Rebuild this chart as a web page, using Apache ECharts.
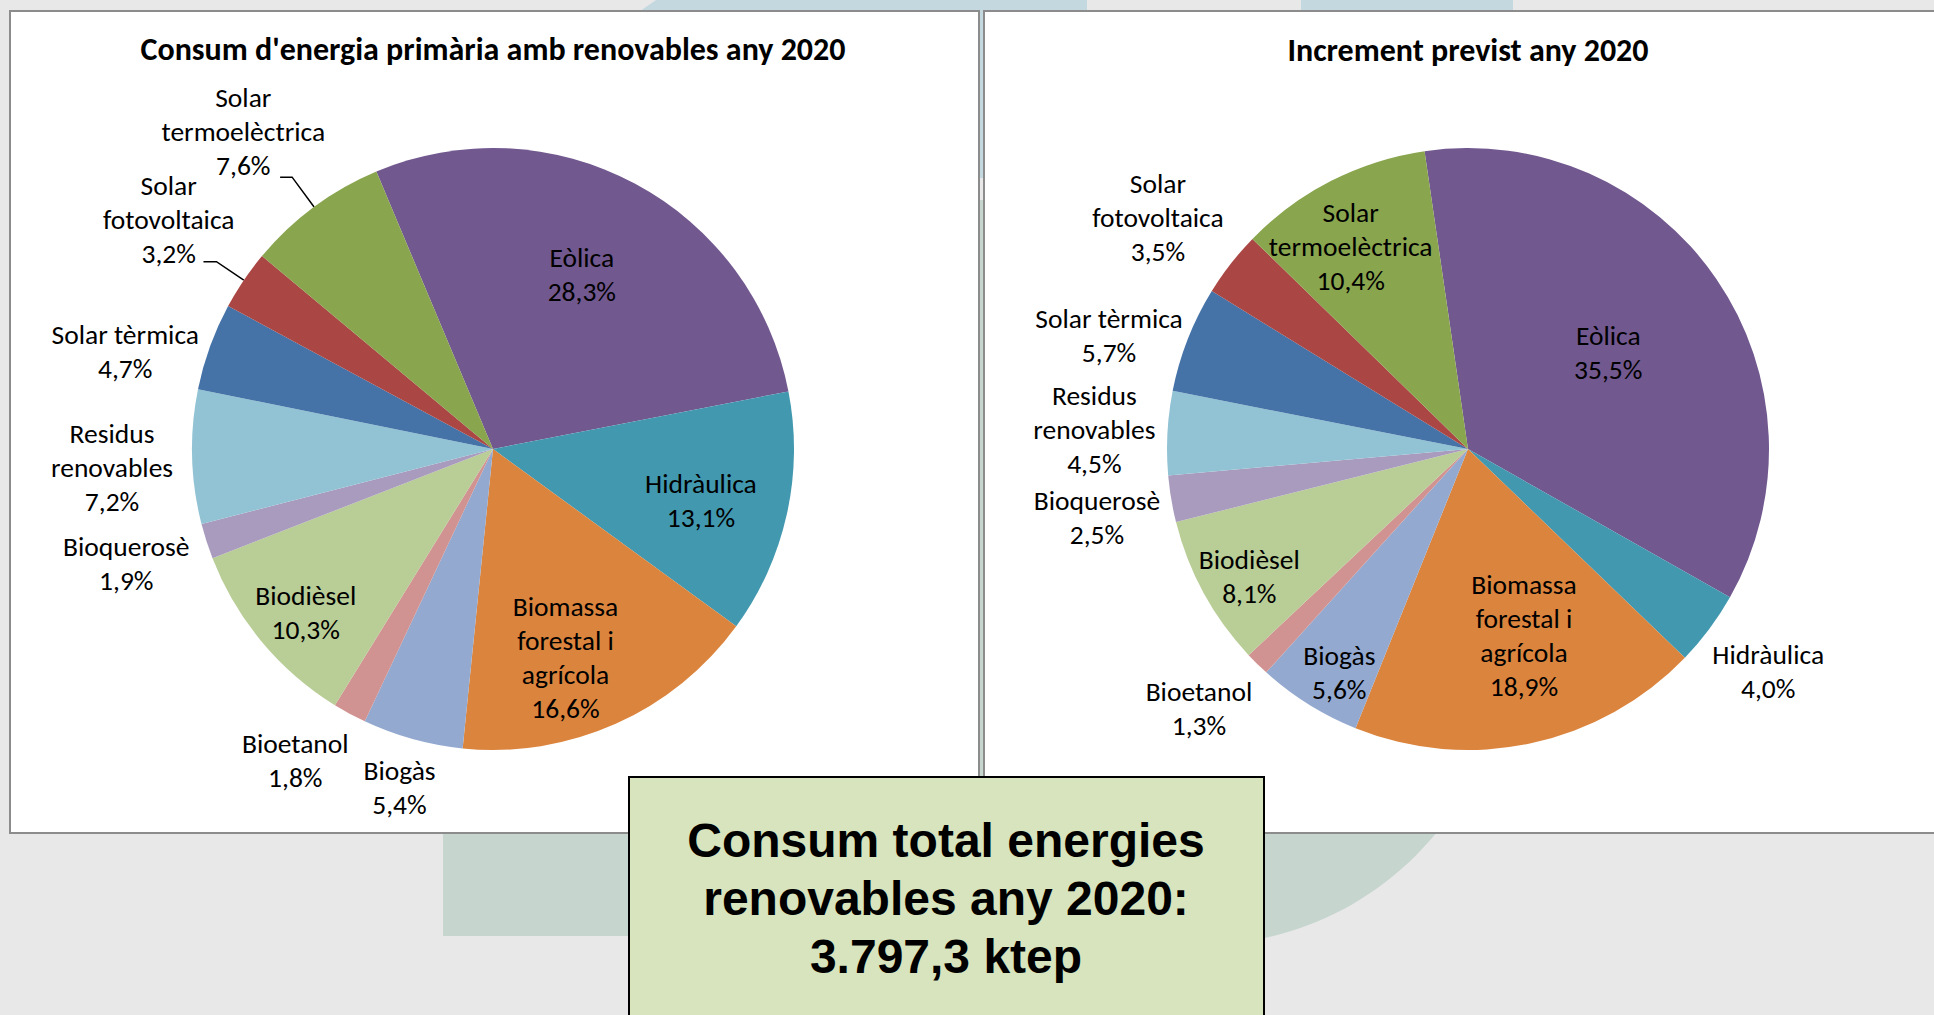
<!DOCTYPE html>
<html>
<head>
<meta charset="utf-8">
<script src="https://cdn.jsdelivr.net/npm/echarts@6/dist/echarts.min.js"></script>
<style>
html,body{margin:0;padding:0;background:#e9e8e9;overflow:hidden}
#c{width:1934px;height:1015px}
</style>
</head>
<body>
<div id="c"></div>
<script>
// ---------------- data ----------------
const categories = ['Eòlica', 'Hidràulica', 'Biomassa forestal i agrícola', 'Biogàs', 'Bioetanol',
  'Biodièsel', 'Bioquerosè', 'Residus renovables', 'Solar tèrmica', 'Solar fotovoltaica', 'Solar termoelèctrica'];
const labelNames = ['Eòlica', 'Hidràulica', 'Biomassa\nforestal i\nagrícola', 'Biogàs', 'Bioetanol',
  'Biodièsel', 'Bioquerosè', 'Residus\nrenovables', 'Solar tèrmica', 'Solar\nfotovoltaica', 'Solar\ntermoelèctrica'];
const consum2020 = [28.3, 13.1, 16.6, 5.4, 1.8, 10.3, 1.9, 7.2, 4.7, 3.2, 7.6];
const increment2020 = [35.5, 4.0, 18.9, 5.6, 1.3, 8.1, 2.5, 4.5, 5.7, 3.5, 10.4];
const titleLeft = "Consum d'energia primària amb renovables any 2020";
const titleRight = 'Increment previst any 2020';
const totalText = 'Consum total energies\nrenovables any 2020:\n3.797,3 ktep';

// ---------------- styles ----------------
const sliceColors = ['#71588f', '#4198af', '#db843d', '#93a9cf', '#d19392',
  '#b9cd96', '#a99bbd', '#92c3d4', '#4572a7', '#aa4643', '#89a54e'];
const FONT = 'Carlito, Lato, "Open Sans", sans-serif';
const R = 301;

// label placement per slice (same order as categories)
const leftLayout = [
  {inside: 194, pad: [0, 5, 7, 0]},
  {inside: 213, pad: [11, 0, 0, 0]},
  {inside: 217, pad: [20, 32, 0, 0]},
  {dist: -23, pad: [96, 0, 0, 0]},
  {dist: 1, pad: [93, 0, 0, 0]},
  {inside: 247, pad: [11, 0, 0, 5]},
  {dist: 17, pad: [44, 0, 0, 0]},
  {dist: 19, pad: [21, 0, 0, 0]},
  {dist: 11, pad: [10, 0, 0, 0]},
  {dist: -31, pad: [0, 0, 84, 0], len: 33, len2: 13, line: true},
  {dist: -45, pad: [0, 0, 91, 0], len: 37, len2: 12, line: true}
];
const rightLayout = [
  {inside: 170, pad: [0, 0, 0, 0]},
  {dist: 3, pad: [86, 0, 0, 0]},
  {inside: 191, pad: [0, 0, 0, 32]},
  {inside: 254, pad: [16, 0, 0, 12]},
  {dist: 5, pad: [89, 0, 0, 0]},
  {inside: 252, pad: [14, 0, 0, 5]},
  {dist: 11, pad: [37, 0, 0, 0]},
  {dist: 12, pad: [0, 0, 8, 0]},
  {dist: 5, pad: [0, 0, 8, 0]},
  {dist: 7, pad: [0, 0, 93, 0]},
  {inside: 234, pad: [12, 22, 0, 0]}
];

function fmtPct(v) { return v.toFixed(1).replace('.', ',') + '%'; }
function richText(i, v) {
  return (labelNames[i] + '\n' + fmtPct(v)).split('\n').map(s => '{c|' + s + '}').join('\n');
}
const rich = { c: { align: 'center', fontFamily: FONT, fontSize: 27.5, lineHeight: 34, color: '#000', textBorderWidth: 0 } };

function buildPie(values, layout, center, startAngle) {
  const series = [];
  series.push({
    type: 'pie', silent: true, animation: false, center: center, radius: [0, R],
    startAngle: startAngle, clockwise: true, avoidLabelOverlap: false, z: 2,
    labelLayout: { hideOverlap: false },
    itemStyle: { borderWidth: 0 },
    emphasis: { disabled: true },
    label: { show: true, position: 'outside', rich: rich, color: '#000',
      formatter: p => richText(p.dataIndex, p.value) },
    labelLine: { show: false, length: 0, length2: 0, lineStyle: { color: '#000', width: 1.5 } },
    data: values.map((v, i) => {
      const L = layout[i];
      const d = { name: categories[i], value: v, itemStyle: { color: sliceColors[i] } };
      if (L.inside) {
        d.label = { show: false };
        d.labelLine = { show: false };
      } else {
        d.label = { show: true, distanceToLabelLine: L.dist, padding: L.pad };
        d.labelLine = { show: !!L.line, length: L.len || 0, length2: L.len2 || 0 };
      }
      return d;
    })
  });
  layout.forEach((L, k) => {
    if (!L.inside) return;
    const rad = L.inside - 3;
    series.push({
      type: 'pie', silent: true, animation: false, center: center,
      radius: [rad - 20, rad + 20], startAngle: startAngle, clockwise: true,
      avoidLabelOverlap: false, z: 3,
      labelLayout: { hideOverlap: false },
      emphasis: { disabled: true },
      itemStyle: { color: 'rgba(0,0,0,0)', borderWidth: 0 },
      label: { show: true, position: 'inside', rich: rich, color: '#000', padding: L.pad,
        formatter: p => richText(p.dataIndex, p.value) },
      labelLine: { show: false },
      data: values.map((v, i) => ({ name: categories[i], value: v, label: { show: i === k } }))
    });
  });
  return series;
}

const chart = echarts.init(document.getElementById('c'), null, { renderer: 'svg', width: 1934, height: 1015 });
const titleStyle = { fontFamily: FONT, fontWeight: 'bold', fontSize: 32, lineHeight: 38, color: '#000' };
chart.setOption({
  animation: false,
  title: [
    { text: titleLeft, left: 493, top: 30, textAlign: 'center', padding: 0, textStyle: titleStyle },
    { text: titleRight, left: 1468, top: 31, textAlign: 'center', padding: 0, textStyle: titleStyle }
  ],
  graphic: { elements: [
    { type: 'rect', silent: true, z: -100, shape: { x: 0, y: 0, width: 1934, height: 1015 }, style: { fill: '#e9e8e9' } },
    { type: 'polygon', silent: true, z: -99, shape: { points: [[656, 0], [1087, 0], [1087, 178], [400, 178]] }, style: { fill: '#c4d8e0' } },
    { type: 'rect', silent: true, z: -99, shape: { x: 1301, y: 0, width: 212, height: 20 }, style: { fill: '#c4d8e0' } },
    { type: 'rect', silent: true, z: -98, shape: { x: 443, y: 200, width: 757, height: 736 }, style: { fill: '#c6d6cf' } },
    { type: 'circle', silent: true, z: -98, shape: { cx: 1200, cy: 640, r: 305 }, style: { fill: '#c6d6cf' } },
    { type: 'rect', silent: true, z: -90, shape: { x: 10, y: 11, width: 969, height: 822 }, style: { fill: '#ffffff', stroke: '#8c8c8c', lineWidth: 2 } },
    { type: 'rect', silent: true, z: -90, shape: { x: 984, y: 11, width: 1000, height: 822 }, style: { fill: '#ffffff', stroke: '#8c8c8c', lineWidth: 2 } },
    { type: 'rect', silent: true, z: 100, shape: { x: 629, y: 777, width: 635, height: 260 }, style: { fill: '#d7e4bd', stroke: '#000000', lineWidth: 2 } },
    { type: 'text', silent: true, z: 101, x: 946, y: 898,
      style: { text: totalText, fill: '#000', align: 'center', verticalAlign: 'middle',
        fontSize: 48, fontWeight: 'bold', fontFamily: '"Liberation Sans", Arial, sans-serif', lineHeight: 58 } }
  ]},
  series: [].concat(
    buildPie(consum2020, leftLayout, [493, 449], 112.8),
    buildPie(increment2020, rightLayout, [1468, 449], 98.3)
  )
});
</script>
</body>
</html>
